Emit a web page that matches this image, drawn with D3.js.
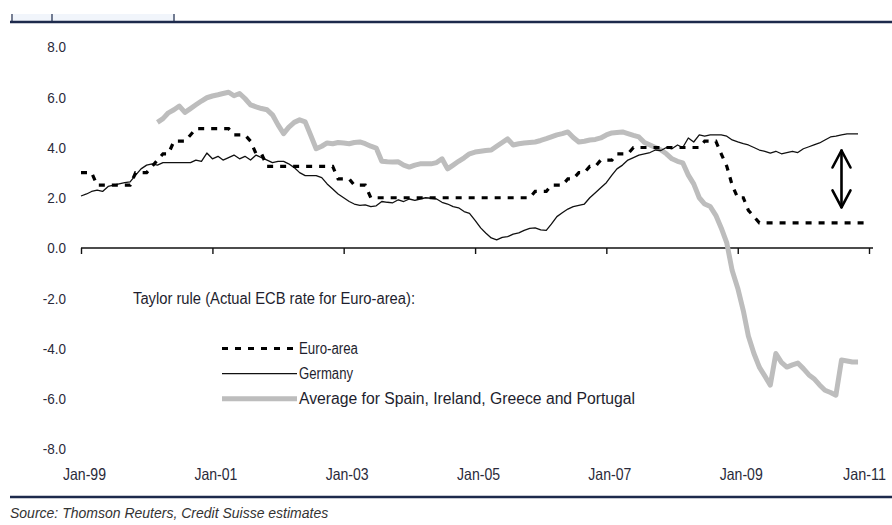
<!DOCTYPE html>
<html>
<head>
<meta charset="utf-8">
<script src="https://cdn.jsdelivr.net/npm/d3@7"></script>
<style>
  html, body { margin: 0; padding: 0; background: #fff; }
  svg { display: block; }
  .narrow { font-family: "Liberation Sans Narrow", "Arial Narrow", "Liberation Sans", Arial, sans-serif; }
</style>
</head>
<body>
<svg id="chart" width="892" height="525"></svg>
<script>
// Monthly observations, Jan-1999 onwards
const startMonth = "1999-01";

// Actual ECB main refinancing rate (Euro-area), Jan-1999 .. Jan-2011
const euroArea = [
  3.0, 3.0, 3.0, 2.5, 2.5, 2.5, 2.5, 2.5, 2.5, 2.5, 3.0, 3.0,
  3.0, 3.25, 3.5, 3.75, 3.75, 4.25, 4.25, 4.25, 4.5, 4.75, 4.75, 4.75,
  4.75, 4.75, 4.75, 4.75, 4.5, 4.5, 4.5, 4.25, 3.75, 3.75, 3.25, 3.25,
  3.25, 3.25, 3.25, 3.25, 3.25, 3.25, 3.25, 3.25, 3.25, 3.25, 3.25, 2.75,
  2.75, 2.75, 2.5, 2.5, 2.5, 2.0, 2.0, 2.0, 2.0, 2.0, 2.0, 2.0,
  2.0, 2.0, 2.0, 2.0, 2.0, 2.0, 2.0, 2.0, 2.0, 2.0, 2.0, 2.0,
  2.0, 2.0, 2.0, 2.0, 2.0, 2.0, 2.0, 2.0, 2.0, 2.0, 2.0, 2.25,
  2.25, 2.25, 2.5, 2.5, 2.5, 2.75, 2.75, 3.0, 3.0, 3.25, 3.25, 3.5,
  3.5, 3.5, 3.75, 3.75, 3.75, 4.0, 4.0, 4.0, 4.0, 4.0, 4.0, 4.0,
  4.0, 4.0, 4.0, 4.0, 4.0, 4.0, 4.25, 4.25, 4.25, 3.75, 3.25, 2.5,
  2.0, 2.0, 1.5, 1.25, 1.0, 1.0, 1.0, 1.0, 1.0, 1.0, 1.0, 1.0,
  1.0, 1.0, 1.0, 1.0, 1.0, 1.0, 1.0, 1.0, 1.0, 1.0, 1.0, 1.0,
  1.0
];

// Taylor-rule rate for Germany, Jan-1999 .. Nov-2010
const germany = [
  2.07, 2.15, 2.25, 2.3, 2.25, 2.45, 2.5, 2.55, 2.6, 2.63, 2.9, 3.15,
  3.3, 3.35, 3.3, 3.4, 3.4, 3.4, 3.4, 3.4, 3.4, 3.5, 3.45, 3.78,
  3.55, 3.65, 3.5, 3.6, 3.7, 3.55, 3.65, 3.5, 3.7, 3.6, 3.5, 3.4,
  3.45, 3.45, 3.35, 3.2, 3.0, 2.88, 2.88, 2.88, 2.8, 2.55, 2.35, 2.15,
  2.0, 1.85, 1.75, 1.7, 1.72, 1.65, 1.68, 1.85, 1.82, 1.8, 1.92, 1.85,
  1.95, 1.9, 1.95, 2.0, 1.98, 1.95, 1.82, 1.75, 1.65, 1.6, 1.45, 1.38,
  1.1, 0.8, 0.6, 0.4, 0.32, 0.42, 0.45, 0.55, 0.6, 0.7, 0.78, 0.8,
  0.72, 0.7, 0.95, 1.25, 1.4, 1.55, 1.65, 1.7, 1.75, 2.0, 2.2, 2.4,
  2.6, 2.9, 3.15, 3.3, 3.5, 3.6, 3.7, 3.75, 3.8, 3.9, 3.88, 4.0,
  3.95, 4.1, 4.0, 4.38, 4.22, 4.5, 4.45, 4.5, 4.5, 4.5, 4.45, 4.3,
  4.22, 4.15, 4.1, 4.0, 3.9, 3.85, 3.78, 3.85, 3.75, 3.8, 3.85, 3.8,
  3.95, 4.03, 4.1, 4.18, 4.3, 4.42, 4.45, 4.5, 4.54, 4.54, 4.54
];

// Taylor-rule average for Spain, Ireland, Greece and Portugal (from Mar-2000)
const periphery = [
  null, null, null, null, null, null, null, null, null, null, null, null,
  null, null, 5.0, 5.15, 5.38, 5.5, 5.65, 5.4, 5.55, 5.7, 5.85, 5.98,
  6.05, 6.1, 6.15, 6.2, 6.06, 6.15, 5.95, 5.7, 5.62, 5.55, 5.5, 5.3,
  4.9, 4.55, 4.8, 5.0, 5.1, 5.02, 4.5, 3.95, 4.05, 4.18, 4.15, 4.2,
  4.18, 4.15, 4.2, 4.22, 4.15, 4.05, 3.98, 3.45, 3.43, 3.42, 3.43, 3.3,
  3.22, 3.3, 3.35, 3.35, 3.35, 3.4, 3.55, 3.15, 3.3, 3.45, 3.59, 3.75,
  3.82, 3.85, 3.88, 3.9, 4.05, 4.2, 4.34, 4.1, 4.15, 4.18, 4.2, 4.22,
  4.28, 4.35, 4.42, 4.5, 4.55, 4.62, 4.4, 4.22, 4.25, 4.3, 4.32, 4.38,
  4.5, 4.58, 4.6, 4.62, 4.55, 4.48, 4.42, 4.2, 4.1, 4.0, 3.9, 3.75,
  3.55, 3.45, 3.39, 2.9, 2.55, 2.0, 1.75, 1.65, 1.3, 0.8, 0.2, -0.9,
  -1.6, -2.5, -3.5, -4.2, -4.74, -5.1, -5.46, -4.2, -4.55, -4.74, -4.65, -4.58,
  -4.8, -5.05, -5.2, -5.45, -5.66, -5.75, -5.86, -4.46, -4.5, -4.54, -4.54
];

// Axis ticks and labels
const yTicks = [-8, -6, -4, -2, 0, 2, 4, 6, 8];
const xTickYears = ["1999", "2001", "2003", "2005", "2007", "2009", "2011"];

// Gap highlighted by the double arrow (Germany vs. ECB rate, end-2010)
const gapArrow = { month: "2010-08", from: 3.88, to: 1.62 };

const legendTitle = "Taylor rule (Actual ECB rate for Euro-area):";
const legendItems = ["Euro-area", "Germany", "Average for Spain, Ireland, Greece and Portugal"];
const sourceNote = "Source: Thomson Reuters, Credit Suisse estimates";

const parseMonth = d3.timeParse("%Y-%m");
const parseYear = d3.timeParse("%Y");
const start = parseMonth(startMonth);
const monthAt = i => d3.timeMonth.offset(start, i);

const svg = d3.select("#chart");
const navy = "#1d2a4c";

// Condense a text element horizontally to the given share of its natural width
function condense(sel, factor) {
  sel.each(function () {
    const w = this.getComputedTextLength();
    d3.select(this).attr("textLength", w * factor).attr("lengthAdjust", "spacingAndGlyphs");
  });
}

const x = d3.scaleTime()
  .domain([parseYear("1999"), parseYear("2011")])
  .range([81, 869]);
const y = d3.scaleLinear().domain([-8, 8]).range([449, 47]);

// Header and footer rules
svg.append("rect").attr("x", 13).attr("y", 14).attr("width", 162).attr("height", 7).attr("fill", "#f1f5fb");
[12, 52, 174].forEach(px => {
  svg.append("line").attr("x1", px).attr("x2", px).attr("y1", 14).attr("y2", 22)
    .attr("stroke", navy).attr("stroke-width", 1.2);
});
svg.append("line").attr("x1", 10).attr("x2", 892).attr("y1", 22).attr("y2", 22)
  .attr("stroke", navy).attr("stroke-width", 2.6);
svg.append("line").attr("x1", 10).attr("x2", 892).attr("y1", 497).attr("y2", 497)
  .attr("stroke", navy).attr("stroke-width", 2.6);

svg.append("text")
  .attr("x", 10).attr("y", 518)
  .attr("font-family", "Liberation Sans, Arial, sans-serif")
  .attr("font-style", "italic")
  .attr("font-size", 14)
  .attr("fill", "#333")
  .text(sourceNote);

// Y-axis labels (no axis line)
const yAxis = d3.axisLeft(y).tickValues(yTicks).tickSize(0).tickPadding(0)
  .tickFormat(d => d.toFixed(1));
const gy = svg.append("g").attr("transform", "translate(66,0)").call(yAxis);
gy.select(".domain").remove();
gy.selectAll("text").attr("class", "narrow").attr("font-size", 15).attr("fill", "#2a2a3a")
  .call(condense, 0.9);

// X axis line at zero with ticks
const xTicks = xTickYears.map(parseYear);
const xAxis = d3.axisBottom(x).tickValues(xTicks).tickSize(6).tickSizeOuter(0).tickFormat("");
const gx = svg.append("g").attr("transform", `translate(0,${y(0)})`).call(xAxis);
gx.select(".domain").attr("d", `M81,0H873`).attr("stroke", "#111").attr("stroke-width", 1.6);
gx.selectAll(".tick line").attr("stroke", "#111").attr("stroke-width", 1.4);

// X labels along the bottom
const xLabels = d3.axisBottom(x).tickValues(xTicks).tickSize(0).tickPadding(0)
  .tickFormat(d3.timeFormat("Jan-%y"));
const gxl = svg.append("g").attr("transform", "translate(3,468)").call(xLabels);
gxl.select(".domain").remove();
gxl.selectAll("text").attr("class", "narrow").attr("font-size", 16.5).attr("fill", "#2a2a3a")
  .attr("textLength", 43).attr("lengthAdjust", "spacingAndGlyphs");
// keep the last label inside the frame
gxl.selectAll(".tick").filter((d, i, n) => i === n.length - 1).select("text").attr("dx", -8);

// Series lines
const line = d3.line()
  .defined(d => d.v !== null)
  .x(d => x(d.t))
  .y(d => y(d.v));
const toPoints = arr => arr.map((v, i) => ({ t: monthAt(i), v }));

svg.append("path").datum(toPoints(periphery))
  .attr("fill", "none").attr("stroke", "#bdbdbd").attr("stroke-width", 5)
  .attr("stroke-linejoin", "round").attr("d", line);

svg.append("path").datum(toPoints(germany))
  .attr("fill", "none").attr("stroke", "#111").attr("stroke-width", 1.3)
  .attr("stroke-linejoin", "round").attr("d", line);

svg.append("path").datum(toPoints(euroArea))
  .attr("fill", "none").attr("stroke", "#000").attr("stroke-width", 3.2)
  .attr("stroke-dasharray", "6,7").attr("d", line);

// Double arrow marking the gap
const ax = x(parseMonth(gapArrow.month));
const y1 = y(gapArrow.from), y2 = y(gapArrow.to);
const arrow = svg.append("g").attr("stroke", "#000").attr("stroke-width", 2.6)
  .attr("fill", "none").attr("stroke-linecap", "round").attr("stroke-linejoin", "round");
arrow.append("line").attr("x1", ax).attr("x2", ax).attr("y1", y1).attr("y2", y2);
arrow.append("path").attr("d", `M${ax - 9},${y1 + 17}L${ax},${y1}L${ax + 9},${y1 + 17}`);
arrow.append("path").attr("d", `M${ax - 9},${y2 - 17}L${ax},${y2}L${ax + 9},${y2 - 17}`);

// Legend
const legend = svg.append("g").attr("class", "narrow").attr("fill", "#1e1e2e").attr("font-size", 16);
const legendWidths = [59, 54, 336];
legend.append("text").attr("x", 133).attr("y", y(-2) + 5.5).text(legendTitle)
  .attr("textLength", 282).attr("lengthAdjust", "spacingAndGlyphs");
const legendRows = [y(-4), y(-5), y(-6)];
const legendStyles = [
  { stroke: "#000", width: 3.2, dash: "6,7" },
  { stroke: "#111", width: 1.3, dash: null },
  { stroke: "#bdbdbd", width: 5, dash: null }
];
legendItems.forEach((name, i) => {
  const ly = legendRows[i];
  legend.append("line").attr("x1", 222).attr("x2", 297).attr("y1", ly).attr("y2", ly)
    .attr("stroke", legendStyles[i].stroke).attr("stroke-width", legendStyles[i].width)
    .attr("stroke-dasharray", legendStyles[i].dash);
  legend.append("text").attr("x", 299).attr("y", ly + 5.5).text(name)
    .attr("textLength", legendWidths[i]).attr("lengthAdjust", "spacingAndGlyphs");
});
</script>
</body>
</html>
